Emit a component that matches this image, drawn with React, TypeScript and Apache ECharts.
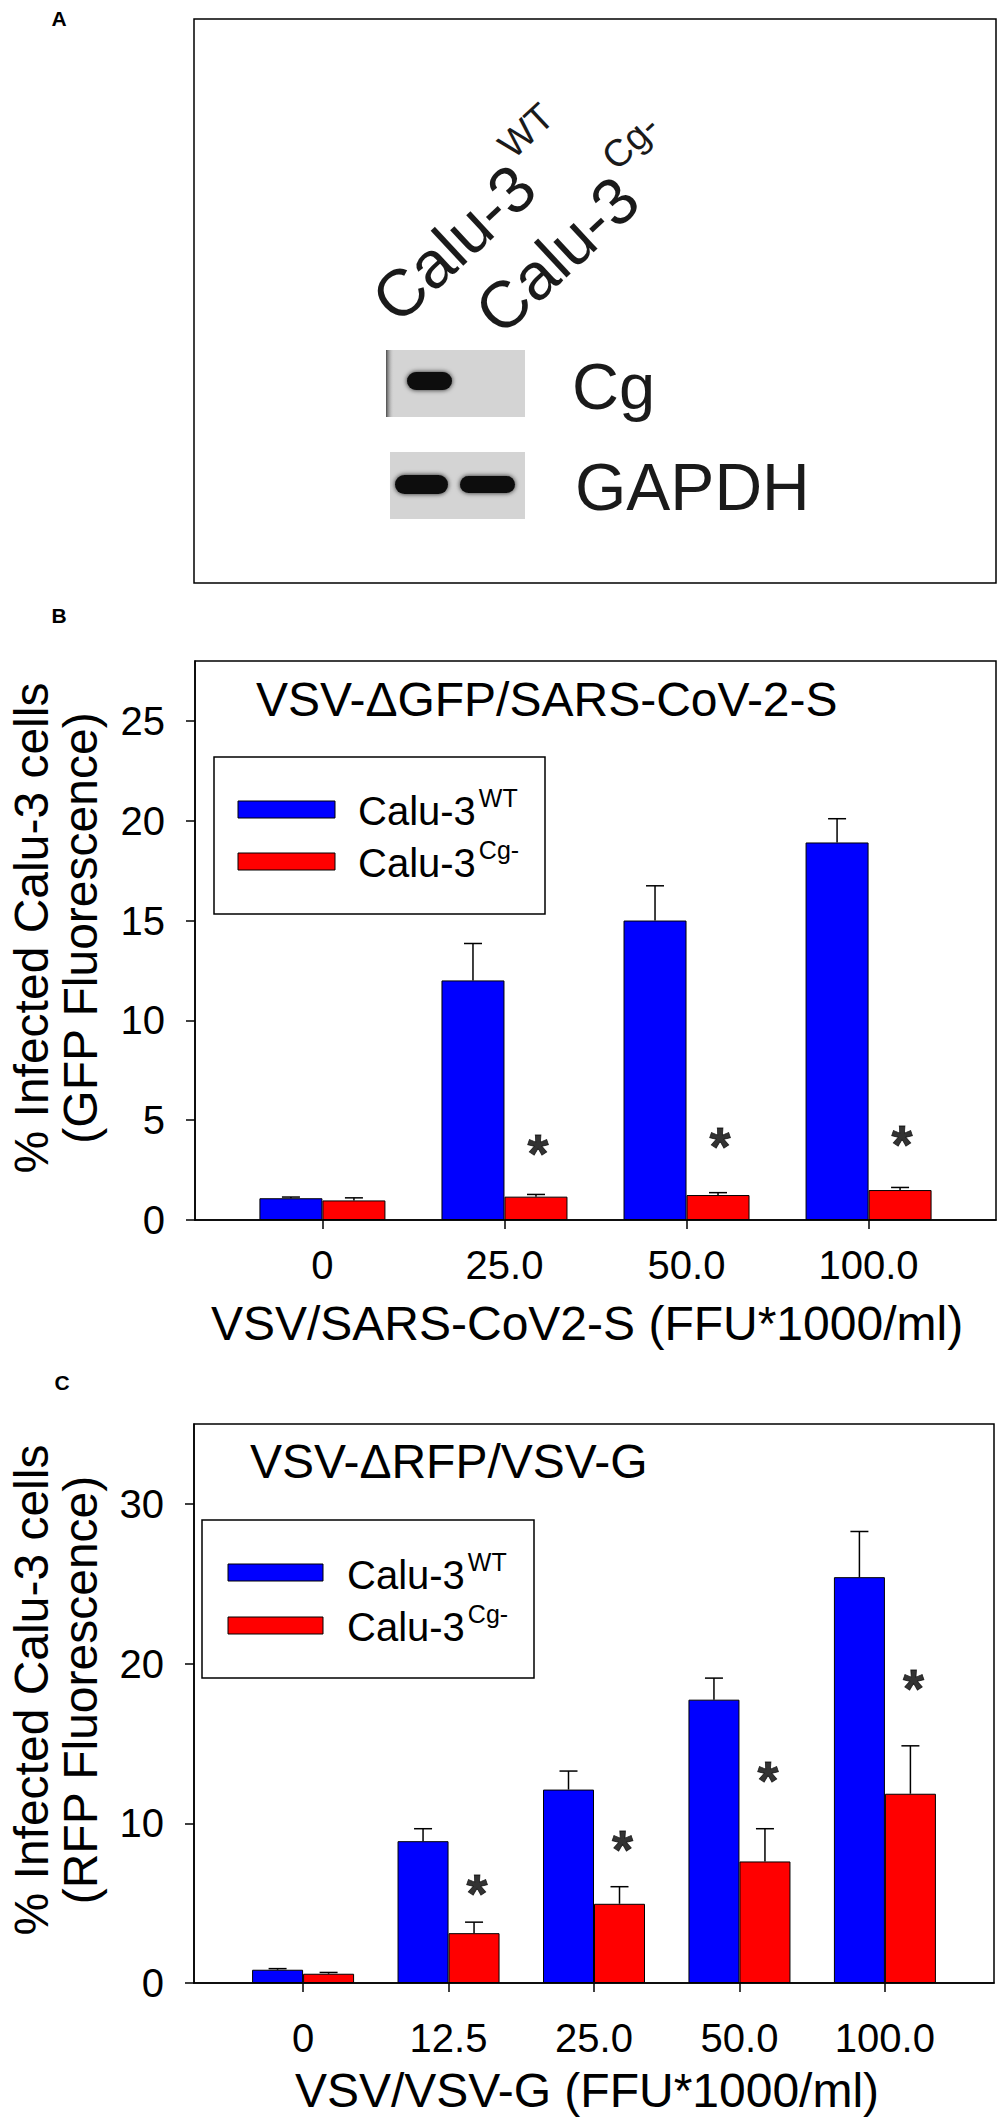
import React, { useEffect, useRef } from 'react';
import * as echarts from 'echarts';

const FONT = "'Liberation Sans', Arial, Helvetica, sans-serif";

// ---------- Panel B data ----------
const xPosB = [1, 2, 3, 4];
const xLabelsB = ['0', '25.0', '50.0', '100.0'];
const wtB = [1.09, 12.0, 15.0, 18.91];
const wtErrB = [0.06, 1.85, 1.74, 1.19];
const cgB = [0.98, 1.17, 1.25, 1.5];
const cgErrB = [0.13, 0.11, 0.12, 0.13];
const starXB = [2, 3, 4];
const starYB = [3.9, 4.25, 4.35];
const yTicksB = [0, 5, 10, 15, 20, 25];

// ---------- Panel C data ----------
const xPosC = [1, 2, 3, 4, 5];
const xLabelsC = ['0', '12.5', '25.0', '50.0', '100.0'];
const wtC = [0.83, 8.88, 12.11, 17.74, 25.41];
const wtErrC = [0.07, 0.78, 1.16, 1.35, 2.86];
const cgC = [0.58, 3.12, 4.96, 7.61, 11.85];
const cgErrC = [0.08, 0.69, 1.07, 2.05, 3.0];
const starXC = [2, 3, 4, 5];
const starYC = [6.35, 9.09, 13.4, 19.15];
const yTicksC = [0, 10, 20, 30];

const seriesNames = ['Calu-3 WT', 'Calu-3 Cg-'];
const supWT = 'WT';
const supCg = 'Cg-';

function textWidth(str: string, size: number, weight = 'normal') {
  const c = document.createElement('canvas').getContext('2d');
  if (!c) return str.length * size * 0.55;
  c.font = `${weight} ${size}px ${FONT}`;
  return c.measureText(str).width;
}

function txt(x: number, y: number, text: string, size: number, opts: any = {}) {
  const align = opts.align || 'left';
  const el: any = {
    type: 'text',
    x,
    y,
    z: 20,
    style: {
      text,
      fontSize: size,
      fontFamily: FONT,
      fontWeight: opts.weight || 'normal',
      fill: opts.color || '#000',
      textAlign: align,
      align,
      textVerticalAlign: 'middle',
      verticalAlign: 'middle',
    },
  };
  if (opts.rotation) el.rotation = opts.rotation;
  return el;
}

function legendGraphics(bx: number, by: number, bw: number, bh: number, rx: number, rw: number, ry1: number, ry2: number, tx: number, ty1: number, ty2: number) {
  const mainW = textWidth('Calu-3', 40);
  return [
    { type: 'rect', z: 15, shape: { x: bx, y: by, width: bw, height: bh }, style: { fill: '#fff', stroke: '#000', lineWidth: 1.5 } },
    { type: 'rect', z: 16, shape: { x: rx, y: ry1, width: rw, height: 17 }, style: { fill: '#0000ff', stroke: '#000', lineWidth: 1 } },
    { type: 'rect', z: 16, shape: { x: rx, y: ry2, width: rw, height: 17 }, style: { fill: '#ff0000', stroke: '#000', lineWidth: 1 } },
    txt(tx, ty1, 'Calu-3', 40),
    txt(tx + mainW + 3, ty1 - 13, supWT, 25),
    txt(tx, ty2, 'Calu-3', 40),
    txt(tx + mainW + 3, ty2 - 13, supCg, 25),
  ];
}

function rotatedLabel(ax: number, ay: number, deg: number, sup: string) {
  const th = (deg * Math.PI) / 180;
  const d = [Math.cos(th), -Math.sin(th)];
  const u = [-Math.sin(th), -Math.cos(th)];
  const mainW = textWidth('Calu-3', 66);
  const along = mainW + 3;
  const raise = 33;
  return [
    txt(ax, ay, 'Calu-3', 66, { rotation: th, color: '#1a1a1a' }),
    txt(ax + d[0] * along + u[0] * raise, ay + d[1] * along + u[1] * raise, sup, 38, { rotation: th, color: '#1a1a1a' }),
  ];
}

function band(x: number, y: number, w: number, h: number) {
  return {
    type: 'rect',
    z: 12,
    shape: { x, y, width: w, height: h, r: h / 2 },
    style: { fill: '#0a0a0a', shadowBlur: 5, shadowColor: 'rgba(0,0,0,0.85)' },
  };
}

function errSeries(k: number, xs: number[], vals: number[], errs: number[], shift: number) {
  return {
    type: 'custom',
    xAxisIndex: k,
    yAxisIndex: k,
    z: 5,
    silent: true,
    data: xs.map((x, i) => [x, vals[i], errs[i]]),
    encode: { x: 0, y: 1 },
    renderItem: (params: any, api: any) => {
      const x = api.value(0);
      const v = api.value(1);
      const e = api.value(2);
      const base = api.coord([x, v]);
      const top = api.coord([x, v + e]);
      const cx = base[0] + shift;
      const st = { stroke: '#000', lineWidth: 1.5 };
      return {
        type: 'group',
        children: [
          { type: 'line', shape: { x1: cx, y1: base[1], x2: cx, y2: top[1] }, style: st },
          { type: 'line', shape: { x1: cx - 9, y1: top[1], x2: cx + 9, y2: top[1] }, style: st },
        ],
      };
    },
  };
}

function barSeries(k: number, name: string, xs: number[], vals: number[], color: string, w: number) {
  return {
    type: 'bar',
    name,
    xAxisIndex: k,
    yAxisIndex: k,
    barWidth: w,
    barGap: '0%',
    z: 3,
    data: xs.map((x, i) => [x, vals[i]]),
    itemStyle: { color, borderColor: '#000', borderWidth: 1 },
  };
}

function starSeries(k: number, xs: number[], ys: number[], dx: number) {
  return {
    type: 'scatter',
    xAxisIndex: k,
    yAxisIndex: k,
    symbol: 'circle',
    symbolSize: 1,
    z: 6,
    itemStyle: { color: 'rgba(0,0,0,0)' },
    data: xs.map((x, i) => [x, ys[i]]),
    label: {
      show: true,
      formatter: '*',
      position: 'inside',
      offset: [dx, 11],
      fontSize: 54,
      fontWeight: 'bold',
      fontFamily: FONT,
      color: '#000',
      textBorderColor: '#000',
      textBorderWidth: 0.8,
    },
  };
}

function xAxisCfg(k: number, min: number, max: number, ticks: number[], labels: string[], margin: number) {
  return {
    type: 'value',
    gridIndex: k,
    min,
    max,
    splitLine: { show: false },
    axisLine: { show: true, lineStyle: { color: '#000', width: 1.5 } },
    axisTick: { show: true, length: 9, inside: false, customValues: ticks, lineStyle: { color: '#000', width: 1.5 } },
    axisLabel: {
      show: true,
      customValues: ticks,
      margin,
      fontSize: 40,
      fontFamily: FONT,
      color: '#000',
      formatter: (v: number) => labels[ticks.indexOf(v)] ?? '',
    },
  };
}

function yAxisCfg(k: number, max: number, ticks: number[]) {
  return {
    type: 'value',
    gridIndex: k,
    min: 0,
    max,
    splitLine: { show: false },
    axisLine: { show: true, lineStyle: { color: '#000', width: 1.5 } },
    axisTick: { show: true, length: 9, inside: false, customValues: ticks, lineStyle: { color: '#000', width: 1.5 } },
    axisLabel: {
      show: true,
      customValues: ticks,
      margin: 30,
      fontSize: 40,
      fontFamily: FONT,
      color: '#000',
    },
  };
}

export default function App() {
  const ref = useRef<HTMLDivElement>(null);
  useEffect(() => {
    if (!ref.current) return;
    const chart = echarts.init(ref.current, undefined, { renderer: 'svg' });
    const bwB = 63;
    const bwC = 51;

    const graphic: any[] = [
      // panel letters
      txt(59, 18, 'A', 21, { align: 'center', weight: 'bold' }),
      txt(59, 615, 'B', 21, { align: 'center', weight: 'bold' }),
      txt(62, 1382, 'C', 21, { align: 'center', weight: 'bold' }),
      // panel A frame
      { type: 'rect', z: 10, shape: { x: 194, y: 19, width: 802, height: 564 }, style: { fill: '#fff', stroke: '#000', lineWidth: 1.5 } },
      // Cg blot
      { type: 'rect', z: 11, shape: { x: 386, y: 350, width: 139, height: 67 }, style: { fill: '#d4d4d4' } },
      {
        type: 'rect',
        z: 11,
        shape: { x: 386, y: 350, width: 8, height: 67 },
        style: {
          fill: new echarts.graphic.LinearGradient(0, 0, 1, 0, [
            { offset: 0, color: 'rgba(60,60,60,0.9)' },
            { offset: 1, color: 'rgba(212,212,212,0)' },
          ]),
        },
      },
      band(407, 372, 45, 18),
      // GAPDH blot
      { type: 'rect', z: 11, shape: { x: 390, y: 452, width: 135, height: 67 }, style: { fill: '#d4d4d4' } },
      band(395, 475, 53, 19),
      band(460, 476, 55, 17),
      // blot labels
      txt(572, 386, 'Cg', 65, { color: '#1a1a1a' }),
      txt(575, 487, 'GAPDH', 66, { color: '#1a1a1a' }),
      ...rotatedLabel(382.6, 309.5, 43, supWT),
      ...rotatedLabel(485.9, 321.2, 43, supCg),
      // Panel B texts
      txt(256, 699, 'VSV-\u0394GFP/SARS-CoV-2-S', 48),
      txt(31, 928, '% Infected Calu-3 cells', 48, { align: 'center', rotation: Math.PI / 2 }),
      txt(80, 928, '(GFP Fluorescence)', 48, { align: 'center', rotation: Math.PI / 2 }),
      txt(587, 1323, 'VSV/SARS-CoV2-S (FFU*1000/ml)', 48, { align: 'center' }),
      ...legendGraphics(214, 757, 331, 157, 238, 97, 801, 853, 358, 811, 863),
      // Panel C texts
      txt(250, 1461, 'VSV-\u0394RFP/VSV-G', 48),
      txt(31, 1690, '% Infected Calu-3 cells', 48, { align: 'center', rotation: Math.PI / 2 }),
      txt(80, 1690, '(RFP Fluorescence)', 48, { align: 'center', rotation: Math.PI / 2 }),
      txt(587, 2090, 'VSV/VSV-G (FFU*1000/ml)', 48, { align: 'center' }),
      ...legendGraphics(202, 1520, 332, 158, 228, 95, 1564, 1617, 347, 1575, 1627),
    ];

    const option: any = {
      animation: false,
      backgroundColor: '#fff',
      grid: [
        { left: 195, top: 661, width: 801, height: 559, show: true, borderColor: '#000', borderWidth: 1.5, backgroundColor: 'transparent' },
        { left: 194, top: 1424, width: 800, height: 559, show: true, borderColor: '#000', borderWidth: 1.5, backgroundColor: 'transparent' },
      ],
      xAxis: [
        xAxisCfg(0, 0.3, 4.7, xPosB, xLabelsB, 25),
        xAxisCfg(1, 0.25, 5.75, xPosC, xLabelsC, 35),
      ],
      yAxis: [yAxisCfg(0, 28, yTicksB), yAxisCfg(1, 35, yTicksC)],
      series: [
        barSeries(0, seriesNames[0], xPosB, wtB, '#0000ff', bwB),
        barSeries(0, seriesNames[1], xPosB, cgB, '#ff0000', bwB),
        errSeries(0, xPosB, wtB, wtErrB, -bwB / 2),
        errSeries(0, xPosB, cgB, cgErrB, bwB / 2),
        starSeries(0, starXB, starYB, bwB / 2 + 2),
        barSeries(1, seriesNames[0], xPosC, wtC, '#0000ff', bwC),
        barSeries(1, seriesNames[1], xPosC, cgC, '#ff0000', bwC),
        errSeries(1, xPosC, wtC, wtErrC, -bwC / 2),
        errSeries(1, xPosC, cgC, cgErrC, bwC / 2),
        starSeries(1, starXC, starYC, bwC / 2 + 3),
      ],
      graphic,
    };
    chart.setOption(option);
    return () => chart.dispose();
  }, []);
  return (
    <div
      ref={ref}
      style={{ position: 'absolute', left: 0, top: 0, width: 1004, height: 2123, background: '#fff' }}
    />
  );
}
